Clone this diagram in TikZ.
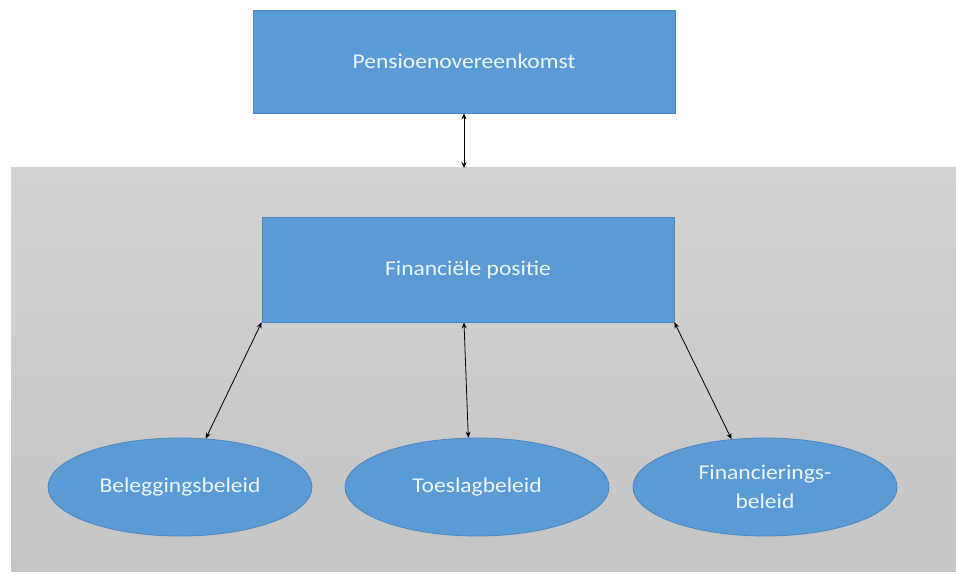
\documentclass[tikz,border=0pt]{standalone}
\usepackage{fontspec}
\setmainfont{Carlito}[FakeStretch=1.12]
\usetikzlibrary{shapes.geometric,arrows.meta}
\definecolor{boxblue}{HTML}{5B9BD5}
\definecolor{boxedge}{HTML}{4A84BC}
\definecolor{txtcol}{HTML}{EEF7FF}
\definecolor{graytop}{HTML}{D2D2D2}
\definecolor{graybot}{HTML}{C5C5C5}
\tikzset{
  blue shape/.style={draw=boxedge, fill=boxblue, line width=0.8pt, text=txtcol,
    font=\fontsize{21}{29}\selectfont, align=center, inner sep=0pt},
  rectbox/.style={blue shape, rectangle},
  ovalbox/.style={blue shape, ellipse, minimum width=264, minimum height=98},
  biarrow/.style={{Stealth[length=6pt,width=5pt]}-{Stealth[length=6pt,width=5pt]}, line width=0.8pt, black}
}
\begin{document}
\begin{tikzpicture}[x=1pt,y=-1pt]
\useasboundingbox (0,0) rectangle (956,575);
\fill[white] (0,0) rectangle (956,575);
% gray background panel
\shade[top color=graytop, bottom color=graybot] (11,168) rectangle (956,571);
\coordinate (paneltop) at (464,168);

\node[rectbox, minimum width=422, minimum height=103] (pens) at (464,61.5) {Pensioenovereenkomst};
\node[rectbox, minimum width=412, minimum height=105] (fin) at (468,269.5) {Financiële positie};

\node[ovalbox] (bel) at (180,487) {Beleggingsbeleid};
\node[ovalbox] (toe) at (477,487) {Toeslagbeleid};
\node[ovalbox] (fib) at (765,487) {Financierings-\\beleid};

\draw[biarrow] (pens.south) -- (paneltop);
\draw[biarrow] (fin.south west) -- (bel.62);
\draw[biarrow] ([xshift=-4pt]fin.south) -- (toe.100);
\draw[biarrow] (fin.south east) -- (fib.125);
\end{tikzpicture}
\end{document}
